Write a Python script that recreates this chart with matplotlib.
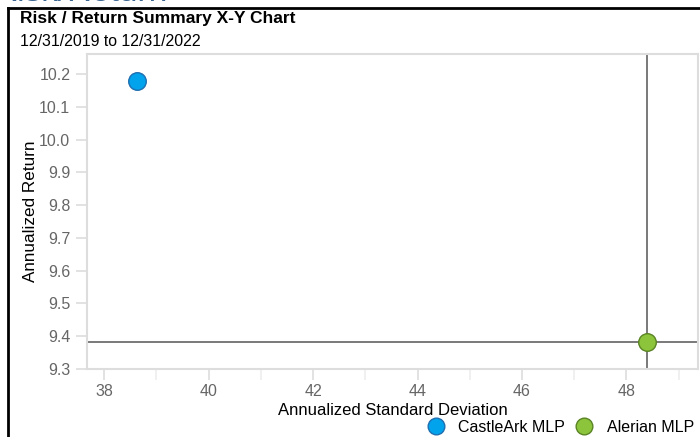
import matplotlib.pyplot as plt
from matplotlib.lines import Line2D

plt.rcParams['font.family'] = ['Liberation Sans', 'DejaVu Sans']

# risk / return per fund
names = ['CastleArk MLP', 'Alerian MLP']
std_dev = [38.63, 48.40]
returns = [10.18, 9.382]
fills = ['#00a3ec', '#8cc43c']
edges = ['#1f6fb0', '#5a8424']

x_ticks = [38, 40, 42, 44, 46, 48]
y_ticks = [9.3, 9.4, 9.5, 9.6, 9.7, 9.8, 9.9, 10.0, 10.1, 10.2]

fig = plt.figure(figsize=(7, 4.37), dpi=100)
ax = fig.add_axes([0.1243, 0.1556, 0.8727, 0.7208])

# benchmark crosshair
ax.axvline(std_dev[1], color='#555555', lw=1.1, zorder=2)
ax.axhline(returns[1], color='#555555', lw=1.1, zorder=2)

for x, y, fc, ec in zip(std_dev, returns, fills, edges):
    ax.scatter(x, y, s=160, color=fc, edgecolors=ec, linewidths=1.0, zorder=3)

ax.set_xlim(37.67, 49.37)
ax.set_ylim(9.3, 10.261)
ax.set_xticks(x_ticks)
ax.set_xticks([39, 41, 43, 45, 47, 49], minor=True)
ax.set_yticks(y_ticks)
ax.set_yticklabels([f'{v:.1f}' for v in y_ticks])

for s in ax.spines.values():
    s.set_color('#dddddd')
    s.set_linewidth(1.5)
ax.tick_params(axis='both', which='major', colors='#dddddd', labelcolor='#666666',
               labelsize=11.5, length=8, width=1.2, pad=4)
ax.tick_params(axis='x', which='major', pad=3)
ax.tick_params(axis='x', which='minor', colors='#eeeeee', length=8, width=1.2)
ax.tick_params(axis='y', which='minor', left=False)

ax.set_xlabel('Annualized Standard Deviation', fontsize=12, labelpad=3)
ax.set_ylabel('Annualized Return', fontsize=12.3, labelpad=1)

# legend under the plot
handles = [Line2D([], [], marker='o', ls='none', markersize=12,
                  markerfacecolor=fc, markeredgecolor=ec) for fc, ec in zip(fills, edges)]
fig.legend(handles, names, loc='lower right', bbox_to_anchor=(1.012, -0.028), ncol=2,
           frameon=False, fontsize=11.5, handletextpad=0.4, columnspacing=0.2)

# page frame and headings
fig.add_artist(Line2D([8 / 700, 1], [1 - 8 / 437, 1 - 8 / 437], color='black', lw=2))
fig.add_artist(Line2D([8 / 700, 8 / 700], [0, 1 - 8 / 437], color='black', lw=2))
fig.text(-0.01, 1 - 1 / 437, 'Risk/Return', fontsize=24, color='#3a6591', va='baseline')
fig.text(20 / 700, 1 - 19 / 437, 'Risk / Return Summary X-Y Chart', fontsize=12.5,
         fontweight='bold', va='center')
fig.text(20 / 700, 1 - 41 / 437, '12/31/2019 to 12/31/2022', fontsize=11.4, va='center')

fig.savefig('out.png', dpi=100)
